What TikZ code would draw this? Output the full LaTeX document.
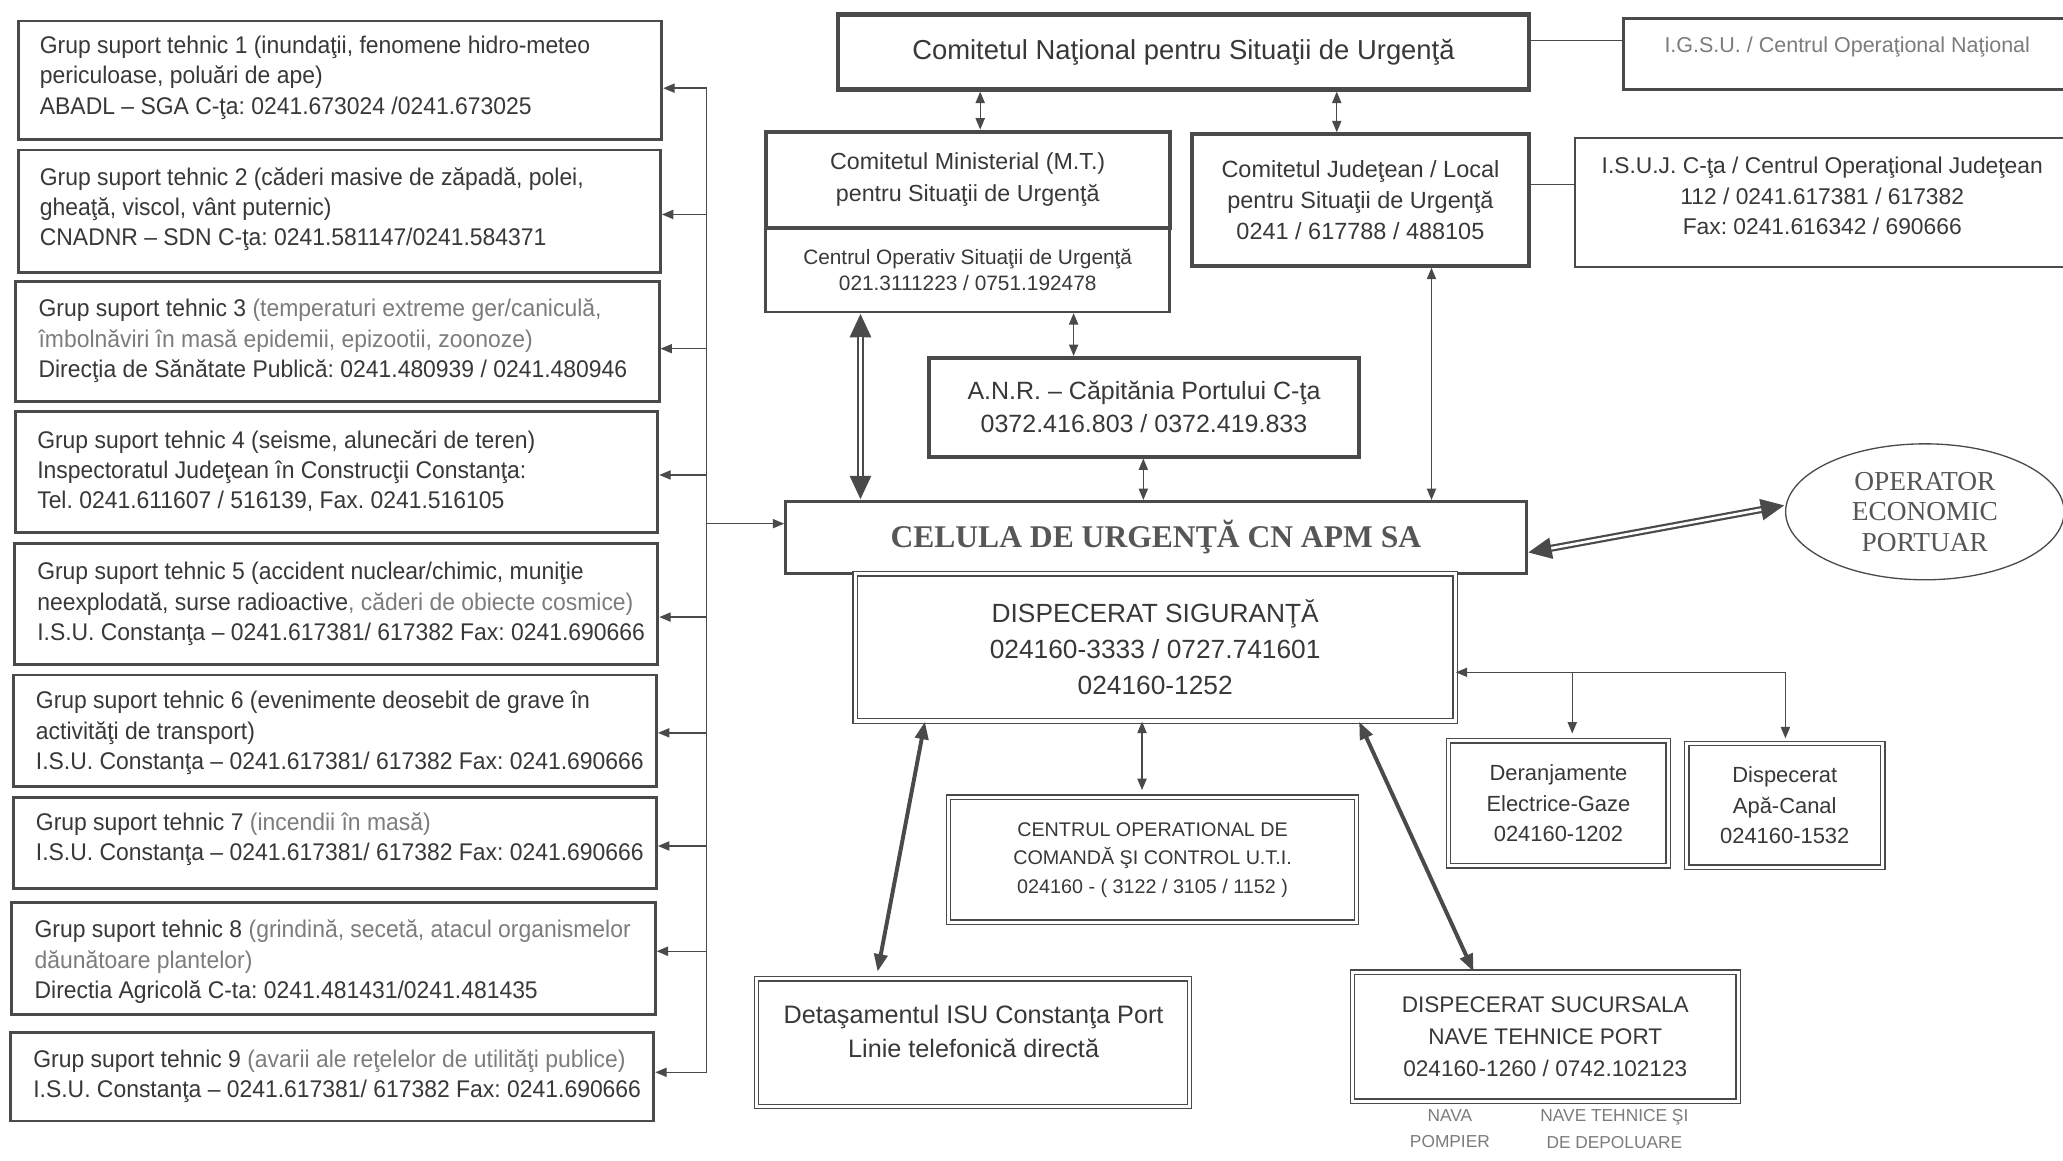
\documentclass[tikz,border=0pt]{standalone}
\usepackage{fontspec}
\setmainfont{Liberation Sans}
\newfontfamily\serifx{Liberation Serif}
\newfontfamily\gfont{Liberation Sans}[FakeStretch=0.95]
\usetikzlibrary{arrows.meta,shapes.geometric}
\definecolor{dk}{HTML}{383838}
\definecolor{lt}{HTML}{7C7C7C}
\definecolor{ln}{HTML}{4A4A4A}
\newcommand\fs[2]{\fontsize{#1}{#2}\selectfont}
% style, name, x1, y1, x2, y2, text
\newcommand\bx[7]{%
  \pgfmathsetmacro\bxw{(#5-#3)*0.6}%
  \pgfmathsetmacro\bxh{(#6-#4)*0.6}%
  \node[#1, minimum width=\bxw pt, minimum height=\bxh pt] (#2) at ({(#3+#5)/2},{(#4+#6)/2}) {#7};}
\frenchspacing
\begin{document}
\begin{tikzpicture}[x=0.6pt,y=-0.6pt,
  gbox/.style={draw=ln, line width=1.3pt, inner sep=0pt},
  gtxt/.style={anchor=west, inner sep=0pt, text=dk, font=\gfont\fs{11}{13.8}, align=left},
  tbox/.style={draw=ln, line width=1.8pt, inner sep=0pt, text=dk, align=center},
  mbox/.style={draw=ln, line width=1.2pt, inner sep=0pt, text=dk, align=center},
  dbox/.style={draw=ln, double, double distance=1.4pt, line width=0.6pt, inner sep=0pt, text=dk, align=center},
  txt/.style={text=dk, align=center, inner sep=0pt},
  link1/.style={draw=ln, line width=0.6pt, -{Triangle[length=5.2pt,width=4.2pt]}},
  link2/.style={draw=ln, line width=0.6pt, {Triangle[length=5.2pt,width=4.2pt]}-{Triangle[length=5.2pt,width=4.2pt]}},
  plainln/.style={draw=ln, line width=0.6pt},
  heavy/.style={draw=ln, line width=1.8pt, {Triangle[length=8pt,width=6pt]}-{Triangle[length=8pt,width=6pt]}},
  dblouter/.style={draw=ln, line width=3.2pt, {Triangle[length=11pt,width=9pt]}-{Triangle[length=11pt,width=9pt]}},
  dblinner/.style={draw=white, line width=1.2pt, shorten <=11pt, shorten >=11pt}
]
\useasboundingbox[fill=white] (0,0) rectangle (1568,882);

% ---------- left group boxes ----------
\bx{gbox}{g1}{14}{16}{503}{106}{}
\bx{gbox}{g2}{14}{114}{502}{207}{}
\bx{gbox}{g3}{12}{214}{501}{305}{}
\bx{gbox}{g4}{12}{313}{500}{405}{}
\bx{gbox}{g5}{11}{413}{500}{505}{}
\bx{gbox}{g6}{10}{513}{499}{598}{}
\bx{gbox}{g7}{10}{606}{499}{675}{}
\bx{gbox}{g8}{9}{686}{498}{771}{}
\bx{gbox}{g9}{8}{785}{497}{852}{}
\node[gtxt] (g1t) at (30,59) {Grup suport tehnic 1 (inundaţii, fenomene hidro-meteo\\periculoase, poluări de ape)\\ABADL – SGA C-ţa: 0241.673024 /0241.673025};
\node[gtxt] (g2t) at (30,159) {Grup suport tehnic 2 (căderi masive de zăpadă, polei,\\gheaţă, viscol, vânt puternic)\\CNADNR – SDN C-ţa: 0241.581147/0241.584371};
\node[gtxt] (g3t) at (29,259) {Grup suport tehnic 3 {\color{lt}(temperaturi extreme ger/caniculă,}\\{\color{lt}îmbolnăviri în masă epidemii, epizootii, zoonoze)}\\Direcţia de Sănătate Publică: 0241.480939 / 0241.480946};
\node[gtxt] (g4t) at (28,358) {Grup suport tehnic 4 (seisme, alunecări de teren)\\Inspectoratul Judeţean în Construcţii Constanţa:\\Tel. 0241.611607 / 516139, Fax. 0241.516105};
\node[gtxt] (g5t) at (28,459) {Grup suport tehnic 5 (accident nuclear/chimic, muniţie\\neexplodată, surse radioactive{\color{lt}, căderi de obiecte cosmice)}\\I.S.U. Constanţa – 0241.617381/ 617382 Fax: 0241.690666};
\node[gtxt] (g6t) at (27,557) {Grup suport tehnic 6 (evenimente deosebit de grave în\\activităţi de transport)\\I.S.U. Constanţa – 0241.617381/ 617382 Fax: 0241.690666};
\node[gtxt] (g7t) at (27,638) {Grup suport tehnic 7 {\color{lt}(incendii în masă)}\\I.S.U. Constanţa – 0241.617381/ 617382 Fax: 0241.690666};
\node[gtxt] (g8t) at (26,731) {Grup suport tehnic 8 {\color{lt}(grindină, secetă, atacul organismelor}\\{\color{lt}dăunătoare plantelor)}\\Directia Agricolă C-ta: 0241.481431/0241.481435};
\node[gtxt] (g9t) at (25,818) {Grup suport tehnic 9 {\color{lt}(avarii ale reţelelor de utilităţi publice)}\\I.S.U. Constanţa – 0241.617381/ 617382 Fax: 0241.690666};

% ---------- top ----------
\bx{tbox, line width=2pt, font=\fs{12.5}{15}}{cnsu}{637}{11}{1162}{68}{Comitetul Naţional pentru Situaţii de Urgenţă}
\bx{mbox}{igsu}{1234}{14}{1580}{68}{}
\node[txt, text=lt, font=\fs{9.8}{12}] (igsut) at (1404,36) {I.G.S.U. / Centrul Operaţional Naţional};
\bx{mbox}{isuj}{1197}{105}{1580}{203}{}
\node[txt, font=\fs{10.4}{13.8}] (isujt) at (1385,149) {I.S.U.J. C-ţa / Centrul Operaţional Judeţean\\112 / 0241.617381 / 617382\\Fax: 0241.616342 / 690666};
\bx{tbox, font=\fs{10.6}{14.4}}{cm}{582}{100}{889}{173}{Comitetul Ministerial (M.T.)\\pentru Situaţii de Urgenţă}
\bx{mbox, font=\fs{9.5}{12}}{cos}{582}{173}{889}{237}{Centrul Operativ Situaţii de Urgenţă\\021.3111223 / 0751.192478}
\bx{tbox, font=\fs{10.7}{14}}{cj}{906}{102}{1162}{202}{Comitetul Judeţean / Local\\pentru Situaţii de Urgenţă\\0241 / 617788 / 488105}
\bx{tbox, font=\fs{11.4}{15}}{anr}{706}{272}{1033}{347}{A.N.R. – Căpitănia Portului C-ţa\\0372.416.803 / 0372.419.833}
\bx{mbox, font=\serifx\bfseries\fs{14.4}{16}, text=dk!85}{cel}{597}{381}{1160}{436}{CELULA DE URGENŢĂ CN APM SA}
\node[ellipse, draw=ln, line width=0.6pt, minimum width=127pt, minimum height=62pt, inner sep=0pt, text=dk!85, align=center, font=\serifx\fs{12.5}{13.8}] (op) at (1463,389) {OPERATOR\\ECONOMIC\\PORTUAR};

% ---------- lower ----------
\bx{dbox, font=\fs{12}{16.5}}{ds}{650}{436}{1106}{548}{DISPECERAT SIGURANŢĂ\\024160-3333 / 0727.741601\\024160-1252}
\bx{dbox, font=\fs{10}{14}}{der}{1101}{563}{1268}{658}{Deranjamente\\Electrice-Gaze\\024160-1202}
\bx{dbox, font=\fs{10}{14}}{apa}{1282}{565}{1431}{659}{Dispecerat\\Apă-Canal\\024160-1532}
\bx{dbox, font=\fs{9}{13}}{cop}{721}{606}{1031}{701}{CENTRUL OPERATIONAL DE\\COMANDĂ ŞI CONTROL U.T.I.\\024160 - ( 3122 / 3105 / 1152 )}
\bx{dbox}{det}{575}{744}{904}{841}{}
\node[txt, font=\fs{11.5}{15.6}] (dett) at (740,784) {Detaşamentul ISU Constanţa Port\\Linie telefonică directă};
\bx{dbox, font=\fs{10.3}{14.4}}{suc}{1028}{739}{1321}{837}{DISPECERAT SUCURSALA\\NAVE TEHNICE PORT\\024160-1260 / 0742.102123}
\node[txt, text=lt, font=\fs{7.9}{12}] (nava) at (1102,858) {NAVA\\POMPIER};
\node[txt, text=lt, font=\fs{7.9}{12}] (nave) at (1227,858) {NAVE TEHNICE ŞI\\DE DEPOLUARE};

% ---------- bus on the left ----------
\coordinate (b1) at (537,67);
\coordinate (b2) at (537,163);
\coordinate (b3) at (537,265);
\coordinate (b4) at (537,361);
\coordinate (bc) at (537,398);
\coordinate (b5) at (537,469);
\coordinate (b6) at (537,557);
\coordinate (b7) at (537,643);
\coordinate (b8) at (537,723);
\coordinate (b9) at (537,815);
\draw[plainln] (b1) -- (b9);
\draw[link1] (b1) -- (g1.east |- b1);
\draw[link1] (b2) -- (g2.east |- b2);
\draw[link1] (b3) -- (g3.east |- b3);
\draw[link1] (b4) -- (g4.east |- b4);
\draw[link1] (b5) -- (g5.east |- b5);
\draw[link1] (b6) -- (g6.east |- b6);
\draw[link1] (b7) -- (g7.east |- b7);
\draw[link1] (b8) -- (g8.east |- b8);
\draw[link1] (b9) -- (g9.east |- b9);
\draw[link1] (bc) -- (cel.west |- bc);

% ---------- top connectors ----------
\draw[plainln] (cnsu.east |- 0,31) -- (igsu.west |- 0,31);
\draw[plainln] (cj.east |- 0,140) -- (isuj.west |- 0,140);
\draw[link2] (cnsu.south -| 745,0) -- (cm.north -| 745,0);
\draw[link2] (cnsu.south -| 1016,0) -- (cj.north -| 1016,0);
\draw[link2] (cos.south -| 816,0) -- (anr.north -| 816,0);
\draw[link2] (anr.south -| 869,0) -- (cel.north -| 869,0);
\draw[link2] (cj.south -| 1088,0) -- (cel.north -| 1088,0);
\draw[dblouter] (cos.south -| 654,0) -- (cel.north -| 654,0);
\draw[dblinner] (cos.south -| 654,0) -- (cel.north -| 654,0);
\draw[dblouter] (cel.east |- 0,420) -- (op.west |- 0,384);
\draw[dblinner] (cel.east |- 0,420) -- (op.west |- 0,384);

% ---------- lower connectors ----------
\coordinate (dj) at (1357,511);
\coordinate (dk) at (1195,511);
\draw[link1] (dj) -- (ds.east |- dj);
\draw[link1] (dk) -- ([yshift=3pt]der.north -| dk);
\draw[link1] (dj) -- ([yshift=2pt]apa.north -| dj);
\draw[link2] (ds.south -| 868,0) -- ([yshift=3pt]cop.north -| 868,0);
\draw[heavy] (ds.south -| 703,0) -- ([yshift=3pt]det.north -| 667,0);
\draw[heavy] (ds.south -| 1033,0) -- (suc.north -| 1120,0);
\end{tikzpicture}
\end{document}
